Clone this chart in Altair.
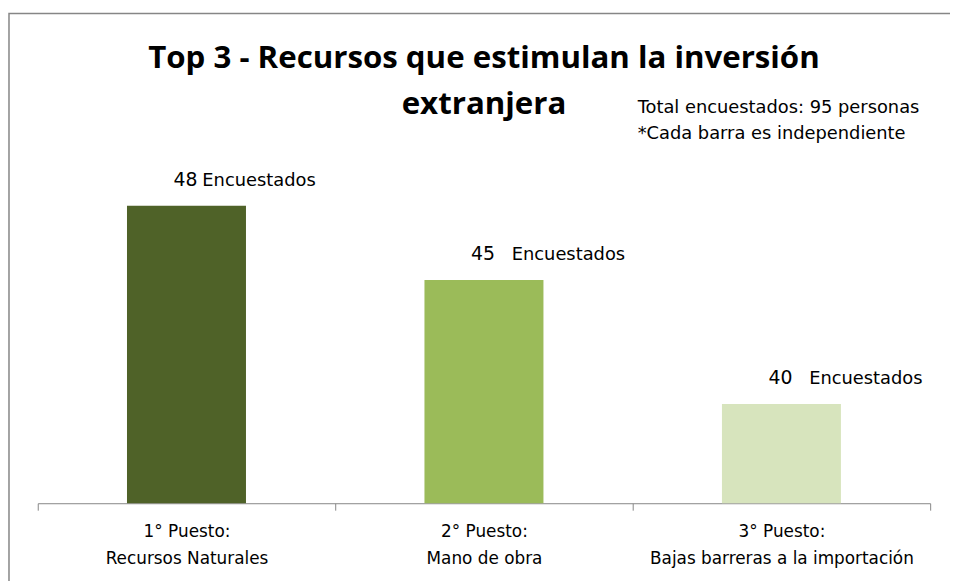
import altair as alt
import pandas as pd

# ---- data ----
puestos = ["1° Puesto:", "2° Puesto:", "3° Puesto:"]
recursos = ["Recursos Naturales", "Mano de obra", "Bajas barreras a la importación"]
encuestados = [48, 45, 40]
colores = ["#4F6228", "#9BBB59", "#D7E4BD"]
titulo = ["Top 3 - Recursos que estimulan la inversión", "extranjera"]
notas = ["Total encuestados: 95 personas", "*Cada barra es independiente"]
unidad = "Encuestados"

cats = [p + "|" + r for p, r in zip(puestos, recursos)]
df = pd.DataFrame({
    "cat": cats,
    "valor": encuestados,
    "unidad": [unidad] * len(encuestados),
})

FONT = "DejaVu Sans"
TFONT = "Open Sans"
W, H = 900, 350

x = alt.X("cat:N", sort=None, title=None,
          scale=alt.Scale(paddingInner=0, paddingOuter=0),
          axis=alt.Axis(tickBand="extent", labelAngle=0,
                        labelExpr="split(datum.label, '|')",
                        domainColor="#868686", tickColor="#868686",
                        tickSize=7, labelPadding=14, labelFontSize=17,
                        labelFont=FONT, labelColor="#000000", labelLimit=0,
                        labelLineHeight=27, labelBaseline="top"))
y = alt.Y("valor:Q", title=None, axis=None,
          scale=alt.Scale(domain=[36, 50], zero=False, nice=False))

base = alt.Chart(df)

bars = base.mark_bar(width=alt.RelativeBandSize(0.4)).encode(
    x=x, y=y, y2=alt.datum(36),
    color=alt.Color("cat:N", sort=None, legend=None,
                    scale=alt.Scale(range=colores)),
)

nums = base.mark_text(align="left", baseline="middle", dx=-13, dy=-26,
                      fontSize=19, font=FONT, color="#000000").encode(
    x=x, y=y, text="valor:Q")

words_first = base.transform_filter(alt.datum.cat == cats[0]).mark_text(
    align="left", baseline="middle", dx=16, dy=-25,
    fontSize=18, font=FONT, color="#000000").encode(
    x=x, y=y, text="unidad:N")
words_rest = base.transform_filter(alt.datum.cat != cats[0]).mark_text(
    align="left", baseline="middle", dx=28, dy=-25,
    fontSize=18, font=FONT, color="#000000").encode(
    x=x, y=y, text="unidad:N")

one = pd.DataFrame({"d": [0]})

border = alt.Chart(one).mark_rect(
    filled=False, stroke="#868686", strokeWidth=1.5).encode(
    x=alt.value(-29), x2=alt.value(2000), y=alt.value(-144), y2=alt.value(2000))

t1 = alt.Chart(one).mark_text(
    align="center", baseline="alphabetic", fontSize=31.5, fontWeight="bold",
    font=TFONT, color="#000000").encode(
    x=alt.value(450), y=alt.value(-89), text=alt.value(titulo[0]))
t2 = alt.Chart(one).mark_text(
    align="center", baseline="alphabetic", fontSize=31.5, fontWeight="bold",
    font=TFONT, color="#000000").encode(
    x=alt.value(450), y=alt.value(-43), text=alt.value(titulo[1]))
n1 = alt.Chart(one).mark_text(
    align="left", baseline="alphabetic", fontSize=18,
    font=FONT, color="#000000").encode(
    x=alt.value(605), y=alt.value(-44), text=alt.value(notas[0]))
n2 = alt.Chart(one).mark_text(
    align="left", baseline="alphabetic", fontSize=18,
    font=FONT, color="#000000").encode(
    x=alt.value(605), y=alt.value(-17), text=alt.value(notas[1]))

chart = alt.layer(border, bars, nums, words_first, words_rest,
                  t1, t2, n1, n2).properties(
    width=W, height=H,
    padding={"left": 30, "top": 147, "right": 20, "bottom": 76},
    autosize=alt.AutoSizeParams(type="none"),
    background="#ffffff",
).configure_view(stroke=None)

chart.save("out.html", embed_options={"renderer": "svg", "actions": False})
